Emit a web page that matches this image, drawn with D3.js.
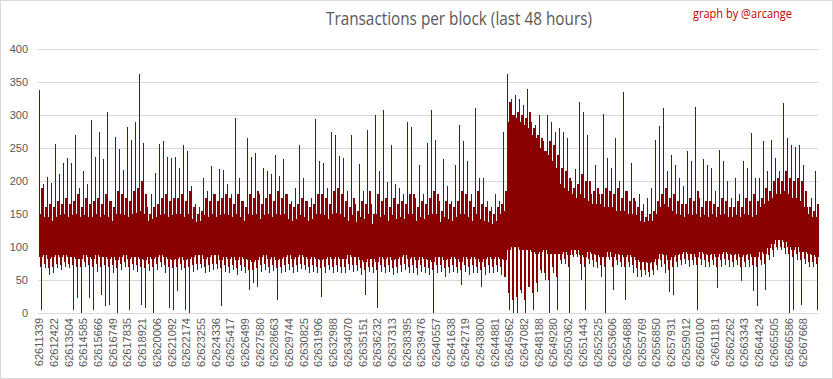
<!DOCTYPE html>
<html><head><meta charset="utf-8">
<script src="https://cdn.jsdelivr.net/npm/d3@7/dist/d3.min.js"></script>
<style>body{margin:0;background:#fff}svg{display:block}</style>
</head><body>
<script>
// ---------- data ----------
const blockLabels = ["62611339","62612422","62613504","62614585","62615666","62616749","62617835","62618921","62620006","62621092","62622174","62623255","62624336","62625417","62626499","62627580","62628663","62629744","62630825","62631906","62632988","62634070","62635151","62636232","62637313","62638395","62639476","62640557","62641638","62642719","62643800","62644881","62645962","62647082","62648188","62649280","62650362","62651443","62652525","62653606","62654688","62655769","62656850","62657931","62659012","62660100","62661181","62662262","62663343","62664424","62665505","62666586","62667668"];
const labelStep = 1081;      // rows between two category labels
const totalRows = 57400;     // blocks in the 48-hour window
const yTicks = [0,50,100,150,200,250,300,350,400];

// per-bucket extreme maximum / minimum transactions (spikes and dips)
const bucketHigh = [338,195,206,197,256,210,228,235,228,270,
190,215,195,293,237,274,234,305,170,267,
248,217,282,262,290,362,258,160,180,212,
256,260,237,235,236,220,254,245,193,165,
160,205,185,223,180,218,216,195,180,295,
204,170,265,236,243,180,220,215,210,240,
208,233,180,170,190,254,205,170,175,294,
230,227,190,275,270,238,235,185,269,165,
226,185,278,165,300,215,308,198,255,195,
190,180,290,282,175,225,180,257,307,262,
170,233,193,170,225,285,260,230,180,310,
205,205,170,160,180,170,275,362,325,330,
325,315,340,290,285,300,260,300,290,275,
280,275,265,200,218,320,305,270,180,225,
180,302,235,220,265,200,335,185,228,170,
180,165,175,190,262,283,310,215,240,225,
205,193,245,230,312,175,233,225,220,185,
247,230,200,175,205,180,230,220,272,205,
204,260,215,262,235,215,318,265,255,252,
255,225,160,175,215];
const bucketLow = [5,68,58,60,68,65,70,68,5,22,
0,70,23,5,62,28,10,12,60,0,
65,70,5,65,62,12,7,63,0,65,
70,60,7,5,33,65,5,0,62,65,
68,60,62,65,66,10,62,60,65,58,
63,60,35,45,40,62,65,60,64,20,
60,62,65,60,62,66,65,60,62,60,
25,60,65,60,62,60,60,65,62,64,
58,27,62,60,8,62,60,62,58,60,
62,65,60,60,58,62,60,58,0,60,
62,55,60,62,60,43,62,58,60,60,
40,58,60,60,62,58,55,5,0,0,
30,0,40,5,32,60,50,0,60,5,
75,75,0,85,85,50,5,75,70,68,
55,0,80,35,72,70,20,70,60,55,
55,58,55,57,65,70,60,32,27,70,
72,75,70,72,5,72,70,70,72,38,
70,72,70,70,72,48,70,70,33,10,
72,35,80,85,95,95,90,0,5,80,
12,75,70,70,5];

// per-bucket dense fringe reach of the series (upper / lower)
const fringeHigh = [190,160,165,160,170,165,175,165,170,180,
160,175,165,170,175,165,180,170,160,185,
180,175,170,185,190,200,180,150,160,165,
175,180,170,175,175,180,170,185,160,150,
155,175,170,180,170,175,180,175,165,180,
170,160,180,175,185,165,175,180,170,185,
175,180,165,160,165,175,170,160,165,180,
180,175,165,185,190,180,170,160,175,155,
170,165,185,150,180,170,175,160,175,165,
170,165,180,180,160,170,165,175,185,180,
155,170,165,160,170,185,180,170,160,185,
165,160,155,150,160,165,185,320,300,305,
300,295,305,280,270,265,245,260,255,240,
220,215,205,190,195,210,200,200,185,190,
180,190,185,180,190,175,185,170,175,160,
155,145,150,155,170,180,190,175,180,170,
165,165,175,170,185,160,170,170,165,160,
175,170,160,160,170,160,175,170,180,170,
175,190,185,200,205,200,215,205,200,205,
200,185,160,155,165];
const fringeLow = [70,75,68,70,75,72,78,75,72,70,
70,78,72,70,75,70,72,70,72,68,
75,78,70,75,72,70,68,75,70,75,
78,72,70,68,70,75,68,70,72,75,
75,70,72,75,75,68,72,70,72,68,
72,70,65,65,68,72,75,70,72,68,
70,72,75,70,72,75,72,70,72,70,
68,70,72,70,72,70,70,75,72,72,
68,65,70,70,65,72,70,72,68,70,
72,75,70,72,68,72,70,68,65,72,
72,68,70,72,70,65,72,70,72,70,
65,70,72,70,72,70,55,30,20,25,
35,20,40,30,45,65,60,50,70,55,
80,82,70,88,90,75,70,82,80,78,
72,70,85,70,80,78,70,78,72,68,
65,65,62,65,72,80,75,65,70,78,
80,82,80,80,72,82,80,78,80,70,
80,82,80,78,80,70,78,80,72,70,
80,75,88,95,100,100,98,90,85,90,
80,82,78,78,75];

// per-bucket solid band (where every block falls) upper / lower edge
const bandTop = [150,145,145,140,145,148,150,145,148,150,
145,148,145,145,150,145,148,145,140,150,
150,148,145,150,152,155,150,140,142,145,
148,150,145,148,150,150,145,150,142,138,
140,148,145,150,145,148,150,148,145,150,
145,140,150,148,150,142,148,150,145,150,
148,150,142,140,142,148,145,140,142,150,
150,148,142,150,152,150,145,140,148,138,
145,142,150,135,150,145,148,140,148,142,
145,142,150,150,140,145,142,148,150,150,
138,145,142,140,145,150,150,145,140,150,
142,140,138,135,140,150,155,290,300,295,
290,285,280,270,265,250,245,240,230,220,
195,190,185,180,175,180,175,170,165,165,
165,160,160,160,155,155,155,150,150,148,
140,138,140,140,150,160,165,160,155,150,
148,145,150,148,150,145,148,145,150,145,
148,150,145,145,148,145,150,148,145,148,
160,165,170,175,180,180,185,180,175,175,
170,160,150,145,145];
const bandBottom = [85,88,82,85,88,85,88,85,85,82,
82,88,85,82,88,85,85,82,85,80,
85,88,82,85,85,82,80,85,82,85,
88,85,82,80,82,85,80,82,85,88,
88,82,85,88,88,80,85,82,85,80,
85,82,80,78,80,85,88,82,85,80,
82,85,88,82,85,88,85,82,85,82,
80,82,85,82,85,82,82,88,85,85,
80,78,82,82,78,85,82,85,80,82,
85,88,82,85,80,85,82,80,78,85,
85,80,82,85,82,78,85,82,85,82,
78,82,85,82,85,82,80,95,100,100,
95,95,95,92,90,92,95,90,90,90,
90,92,88,95,95,88,85,92,90,88,
85,85,92,85,90,88,85,88,85,80,
78,78,76,78,82,90,88,80,85,88,
90,92,90,90,85,92,90,88,90,85,
90,92,90,88,90,85,88,90,85,85,
92,90,98,105,110,110,108,100,95,100,
92,92,90,88,85];

// ---------- chart ----------
const W = 833, H = 379;
const red = "#8b0000", grey = "#595959", gridC = "#d9d9d9";
const svg = d3.select("body").append("svg").attr("width", W).attr("height", H);
svg.append("rect").attr("x", 0.5).attr("y", 0.5).attr("width", W - 1).attr("height", H - 1)
  .attr("fill", "#fff").attr("stroke", gridC);

const x = d3.scaleLinear().domain([0, totalRows]).range([39, 819]);
const y = d3.scaleLinear().domain([0, 400]).range([313, 49]);

// gridlines
svg.append("g").selectAll("line").data(yTicks.filter(v => v > 0)).join("line")
  .attr("x1", 38).attr("x2", 818)
  .attr("y1", d => Math.round(y(d)) + 0.5).attr("y2", d => Math.round(y(d)) + 0.5)
  .attr("stroke", gridC).attr("stroke-width", 1);

// y axis labels
const yAxis = svg.append("g").attr("transform", "translate(30,0)")
  .call(d3.axisLeft(y).tickValues(yTicks).tickSize(0).tickPadding(2));
yAxis.select(".domain").remove();
yAxis.selectAll("text").attr("font-family", "'Liberation Sans', Arial, sans-serif")
  .attr("font-size", 11).attr("fill", grey);

// series: each bucket drawn as four 1-px columns (range the dense line covers)
const rpb = totalRows / bucketHigh.length;
const q = rpb / 4;
const cols = [];
bucketHigh.forEach((h, i) => {
  const r = i * rpb;
  cols.push({r0: r,         top: h,             bot: bandBottom[i]});   // spike
  cols.push({r0: r + q,     top: bandTop[i],    bot: fringeLow[i]});
  cols.push({r0: r + 2 * q, top: fringeHigh[i], bot: bucketLow[i]});    // dip
  cols.push({r0: r + 3 * q, top: fringeHigh[i], bot: bandBottom[i]});
});
svg.append("g").attr("shape-rendering", "crispEdges").selectAll("rect").data(cols).join("rect")
  .attr("x", d => x(d.r0)).attr("width", d => x(d.r0 + q) - x(d.r0))
  .attr("y", d => y(d.top)).attr("height", d => y(d.bot) - y(d.top))
  .attr("fill", red);

// x axis
const xAxis = svg.append("g").attr("transform", "translate(0,313)")
  .call(d3.axisBottom(x).tickValues(blockLabels.map((_, k) => k * labelStep))
    .tickFormat((d, i) => blockLabels[i]).tickSize(0));
xAxis.select(".domain").attr("stroke", gridC).attr("d", "M38,0.5H818");
xAxis.selectAll("text")
  .attr("transform", "rotate(-90)")
  .attr("text-anchor", "end")
  .attr("x", -5).attr("y", 0).attr("dy", "0.35em")
  .attr("font-family", "'Liberation Sans', Arial, sans-serif")
  .attr("font-size", 11).attr("fill", grey);

// title
svg.append("text").attr("x", 459).attr("y", 25).attr("text-anchor", "middle")
  .attr("font-family", "'Open Sans', sans-serif").attr("font-size", 18).attr("fill", grey)
  .attr("textLength", 266).attr("lengthAdjust", "spacingAndGlyphs")
  .text("Transactions per block (last 48 hours)");
svg.append("text").attr("x", 693).attr("y", 18)
  .attr("font-family", "'Open Sans', sans-serif").attr("font-size", 12).attr("fill", "#c00000")
  .attr("textLength", 99).attr("lengthAdjust", "spacingAndGlyphs")
  .text("graph by @arcange");
</script>
</body></html>
